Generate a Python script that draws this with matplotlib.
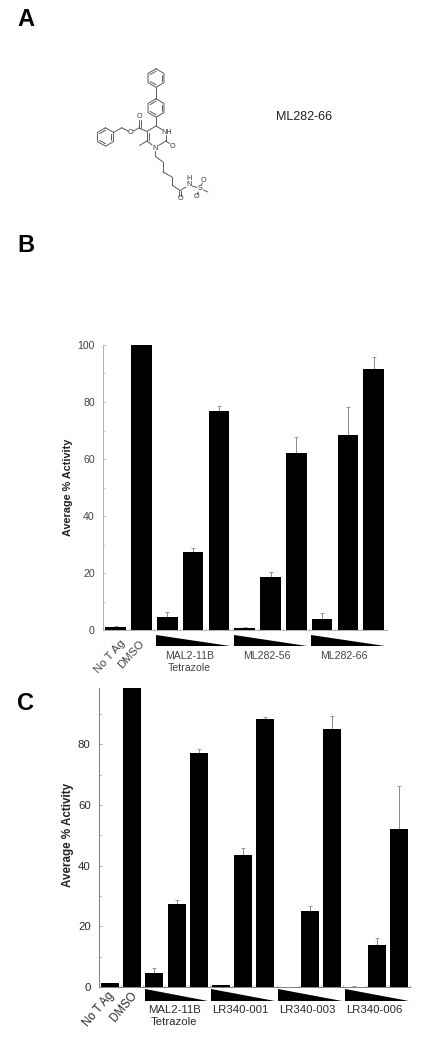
import matplotlib
matplotlib.use('Agg')
import matplotlib.pyplot as plt
import numpy as np

plt.rcParams['font.family'] = ['Liberation Sans', 'DejaVu Sans']

W, H = 433, 1049

# panel B
b_values = [1.2, 100, 4.7, 27.5, 77, 0.6, 18.7, 62.2, 3.9, 68.3, 91.5]
b_errors = [0.2, 0, 1.7, 1.3, 1.6, 0.3, 1.5, 5.6, 2.1, 9.8, 4.2]
b_groups = ['MAL2-11B\nTetrazole', 'ML282-56', 'ML282-66']

# panel C
c_values = [1.2, 100, 4.7, 27.5, 77, 0.6, 43.5, 88.5, 0, 25, 85, 0.1, 14, 52]
c_errors = [0.2, 0, 1.7, 1.3, 1.6, 0.2, 2.3, 0.7, 0, 1.6, 4.3, 0.1, 2.1, 14.4]
c_groups = ['MAL2-11B\nTetrazole', 'LR340-001', 'LR340-003', 'LR340-006']

controls = ['No T Ag', 'DMSO']
y_ticks = [0, 20, 40, 60, 80, 100]


def panel(box, values, errors, groups, ymax, yticks, width, xlim, wedge, label_pad, tick_fs, label_fs, label_y,
          ctrl_x, ctrl_y, ctrl_fs, ctrl_rot, group_dx, group_y, group_ls, axis_col, text_col):
    left, top, right, bottom = box
    ax = fig.add_axes([left / W, 1 - bottom / H, (right - left) / W, (bottom - top) / H])
    x = np.arange(len(values))
    vals = np.array(values)
    errs = np.array(errors)
    has_err = errs > 0
    ax.bar(x, vals, width=width, color='black', zorder=3)
    ax.errorbar(x[has_err], vals[has_err], yerr=[np.zeros(has_err.sum()), errs[has_err]],
                fmt='none', ecolor='#8a8a8a', elinewidth=0.7, capsize=1.2, capthick=0.6, zorder=2)
    ax.set_xlim(*xlim)
    ax.set_ylim(0, ymax)
    for s in ['top', 'right']:
        ax.spines[s].set_visible(False)
    for s in ['left', 'bottom']:
        ax.spines[s].set_color(axis_col)
        ax.spines[s].set_linewidth(0.7)
    ax.set_yticks(yticks)
    ax.set_yticks(np.arange(10, ymax + 0.1, 20), minor=True)
    ax.set_xticks(np.arange(len(values) + 1) - 0.5, minor=True)
    ax.set_xticks([])
    ax.tick_params(axis='y', which='major', direction='in', length=2.5, width=0.5, color=axis_col,
                   labelsize=tick_fs, labelcolor=text_col, pad=5.8)
    ax.tick_params(axis='y', which='minor', direction='in', length=1.5, width=0.5, color=axis_col)
    ax.tick_params(axis='x', which='minor', direction='in', length=1.5, width=0.4, color=axis_col)
    ax.set_ylabel('Average % Activity', fontsize=label_fs, fontweight='bold', color='#222222',
                  labelpad=label_pad, y=label_y)

    trans = ax.get_xaxis_transform()
    # rotated control labels
    for cx, name in zip(ctrl_x, controls):
        ax.text(cx, -ctrl_y, name, transform=trans, rotation=ctrl_rot, ha='right', va='top',
                rotation_mode='anchor', fontsize=ctrl_fs, color=text_col, clip_on=False)
    # one descending wedge and one label per three-dose group
    for g, name in enumerate(groups):
        a = 2 + 3 * g - width / 2 - 0.03
        b = 4 + 3 * g + width / 2 + 0.03
        ax.fill([a, a, b], [-wedge[0], -wedge[1], -wedge[1]], color='black', transform=trans, clip_on=False, lw=0)
        ax.text((a + b) / 2 + group_dx, -group_y, name, transform=trans, ha='center', va='top',
                fontsize=tick_fs, color=text_col, linespacing=group_ls, clip_on=False)
    return ax


fig = plt.figure(figsize=(W / 100, H / 100), dpi=100)
bg = fig.add_axes([0, 0, 1, 1])
bg.set_xlim(0, W)
bg.set_ylim(H, 0)
bg.axis('off')

for letter, ly in zip('ABC', [19, 245, 703]):
    bg.text(17, ly, letter, fontsize=17, fontweight='bold', ha='left', va='center', color='black')
bg.text(276, 117, 'ML282-66', fontsize=9, color='#222222', va='center', ha='left')


# chemical structure, points in reference pixels
def ring(cx, cy, r):
    a = np.deg2rad(np.arange(90, 450, 60))
    return np.c_[cx + r * np.cos(a), cy - r * np.sin(a)]


line_kw = dict(color='#5a5a5a', lw=0.7, solid_capstyle='round')
for cx, cy in [(156, 78), (156, 108), (105.5, 137)]:
    pts = ring(cx, cy, 9.2)
    bg.plot(*np.vstack([pts, pts[:1]]).T, **line_kw)
    inner = ring(cx, cy, 6.8)
    for i in [0, 2, 4]:
        bg.plot(*inner[[i, i + 1]].T, **line_kw)

bond_list = [
    [(156, 87.2), (156, 98.8)], [(156, 117.2), (156, 126)], [(156, 126), (147, 131.5)],
    [(147, 131.5), (147, 141)], [(148.5, 132.5), (148.5, 140)], [(147, 141), (152, 145)],
    [(158.5, 145.5), (166, 141)], [(156, 126), (162, 129.5)], [(166, 135), (166, 141)],
    [(166, 141), (169.5, 143.5)], [(147, 131.5), (139, 128)], [(139, 128), (139, 120)],
    [(140.5, 128), (140.5, 120)], [(139, 128), (133.5, 131)], [(128, 131), (121.7, 127.7)],
    [(121.7, 127.7), (113.5, 132.5)], [(147, 141), (139.5, 145.5)],
    [(155.5, 151.5), (155.7, 156.6)], [(155.7, 156.6), (163, 162)], [(163, 162), (163, 172)],
    [(163, 172), (172, 177)], [(172, 177), (172, 185)], [(172, 185), (180, 190.5)],
    [(180, 190.5), (186, 187)], [(179.2, 191), (179.2, 195.5)], [(180.8, 191), (180.8, 195.5)],
    [(192, 186), (197, 187.5)], [(203.5, 190), (208, 192)], [(201, 185), (202.5, 183)],
    [(198.5, 192), (197, 194.5)],
]
for bond in bond_list:
    bg.plot(*np.array(bond).T, **line_kw)

atoms = [('O', 139, 117), ('O', 130.7, 132.7), ('N', 155, 148), ('NH', 167, 132),
         ('O', 172, 146), ('O', 180, 198.5), ('N', 189, 184), ('H', 189, 178),
         ('S', 200.5, 188), ('O', 203, 180), ('O', 196, 197)]
for s, ax_, ay_ in atoms:
    bg.text(ax_, ay_, s, fontsize=5.2, color='#333333', ha='center', va='center')

panel((102.7, 345, 386.7, 630), b_values, b_errors, b_groups, 100, y_ticks, 0.8,
      (-0.463, 10.49), (0.0175, 0.056), 3, 7.6, 7.8, 0.5,
      (0.17, 0.90), 0.03, 8.2, 48, -0.15, 0.075, 1.25, '#b0b0b0', '#444444')
panel((98.7, 688.3, 410, 987), c_values, c_errors, c_groups, 98.5, y_ticks[:-1], 0.81,
      (-0.495, 13.5), (0.007, 0.047), 3, 8.2, 8.4, 0.508,
      (-0.12, 0.91), 0.01, 8.3, 50, -0.11, 0.059, 1.35, '#808080', '#2a2a2a')

fig.savefig('out.png', dpi=100)
